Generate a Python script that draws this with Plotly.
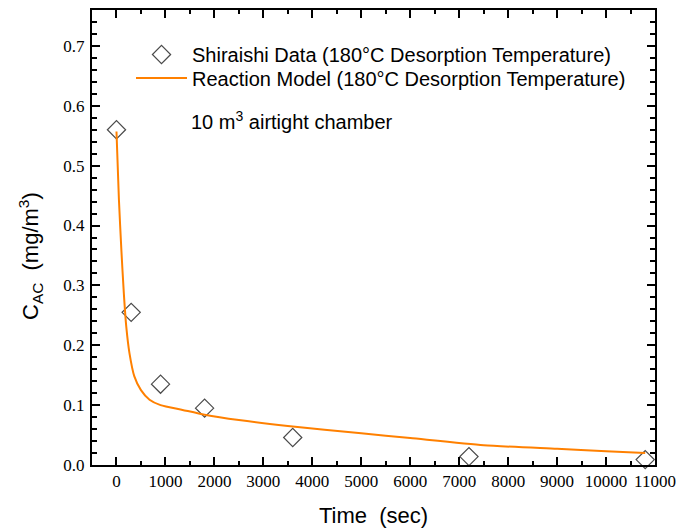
import plotly.graph_objects as go

# Measured data (Shiraishi)
t_data = [0, 300, 900, 1800, 3600, 7200, 10800]
c_data = [0.560, 0.255, 0.135, 0.095, 0.046, 0.014, 0.009]

# Reaction model curve
t_model = [0, 50, 100, 150, 200, 265, 365, 500, 675, 900, 1350, 1800, 2500,
           3500, 5000, 6000, 7500, 9000, 10000, 10800]
c_model = [0.557, 0.443, 0.359, 0.287, 0.231, 0.187, 0.148, 0.125, 0.109, 0.100,
           0.092, 0.084, 0.075, 0.065, 0.053, 0.045, 0.033, 0.027, 0.023, 0.020]

x_ticks = list(range(0, 11001, 1000))
y_ticks = [0.0, 0.1, 0.2, 0.3, 0.4, 0.5, 0.6, 0.7]

W, H = 679, 532
L, R, T, B = 92, 24, 10, 67
pw, ph = W - L - R, H - T - B


def py(px):
    return (H - B - px) / ph


def pxx(px):
    return (px - L) / pw


fig = go.Figure()
fig.add_trace(go.Scatter(
    x=t_data, y=c_data, mode="markers",
    name="Shiraishi Data (180°C Desorption Temperature)",
    marker=dict(symbol="diamond-open", size=14, color="#4a4a4a",
                line=dict(width=1.2, color="#4a4a4a")),
    cliponaxis=False, legend="legend",
))
fig.add_trace(go.Scatter(
    x=t_model, y=c_model, mode="lines",
    name="Reaction Model (180°C Desorption Temperature)",
    line=dict(color="#ff8000", width=2, shape="spline", smoothing=0.6),
    legend="legend2",
))

axis_common = dict(
    showline=True, linecolor="black", linewidth=2, mirror="ticks",
    ticks="inside", ticklen=8, tickwidth=2, tickcolor="black",
    showgrid=False, zeroline=False, automargin=False,
    tickfont=dict(family="Liberation Serif, Times New Roman, serif", size=17, color="black"),
)

fig.update_xaxes(
    range=[-500, 11000], tickvals=x_ticks, ticktext=[str(v) for v in x_ticks],
    minor=dict(dtick=500, tick0=0, ticks="inside", ticklen=4, tickwidth=2, tickcolor="black"),
    title=dict(text="Time  (sec)", font=dict(family="Liberation Sans", size=22, color="black"),
               standoff=17),
    **axis_common,
)
fig.update_yaxes(
    range=[0, 0.76], tickvals=y_ticks, ticktext=[f"{v:.1f}" for v in y_ticks],
    minor=dict(dtick=0.02, tick0=0, ticks="inside", ticklen=5, tickwidth=2, tickcolor="black"),
    ticklabelstandoff=2,
    **axis_common,
)

fig.add_annotation(
    text="C<sub>AC</sub>  (mg/m<sup>3</sup>)", textangle=-90,
    xref="paper", yref="paper", x=pxx(30), y=py(256),
    xanchor="center", yanchor="middle", showarrow=False,
    font=dict(family="Liberation Sans", size=22, color="black"),
)
fig.add_annotation(
    text="10 m<sup>3</sup> airtight chamber",
    xref="paper", yref="paper", x=pxx(189), y=py(120),
    xanchor="left", yanchor="middle", showarrow=False,
    font=dict(family="Liberation Sans", size=20, color="black"),
)

legend_common = dict(
    xanchor="left", yanchor="top",
    bgcolor="rgba(0,0,0,0)", borderwidth=0,
    font=dict(family="Liberation Sans", size=20, color="black"),
    itemwidth=51,
)

fig.update_layout(
    width=W, height=H,
    margin=dict(l=L, r=R, t=T, b=B),
    plot_bgcolor="white", paper_bgcolor="white",
    showlegend=True,
    legend=dict(x=pxx(131), y=py(35), **legend_common),
    legend2=dict(x=pxx(131), y=py(58.5), **legend_common),
)

fig.write_html("out.html", config={"displayModeBar": False},
               post_script="document.body.style.margin='0';")
